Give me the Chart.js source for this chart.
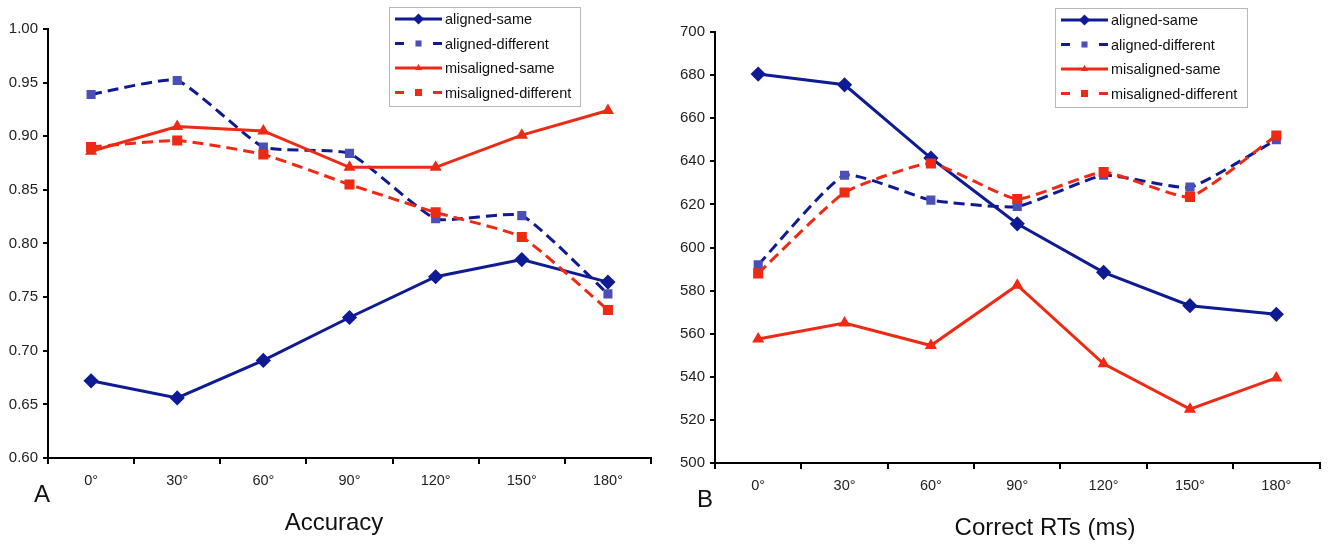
<!DOCTYPE html>
<html lang="en">
<head>
  <meta charset="UTF-8">
  <title>Accuracy and correct RTs</title>
  <script src="https://cdn.jsdelivr.net/npm/chart.js"></script>
  <style>
    body {
      margin: 0;
      background: #fff;
    }
    .panel {
      position: absolute;
      top: 0;
      width: 664px;
      height: 546px;
    }
    #panelA { left: 0; }
    #panelB { left: 664px; }
  </style>
</head>
<body>

  <div class="panel" id="panelA"><canvas id="accChart" width="664" height="546"></canvas></div>
  <div class="panel" id="panelB"><canvas id="rtChart" width="664" height="546"></canvas></div>

  <script>
    const angles = ["0°", "30°", "60°", "90°", "120°", "150°", "180°"];
    const seriesNames = ["aligned-same", "aligned-different", "misaligned-same", "misaligned-different"];

    // A: accuracy
    const accAlignedSame = [0.672, 0.656, 0.691, 0.731, 0.769, 0.785, 0.764];
    const accAlignedDiff = [0.939, 0.952, 0.890, 0.884, 0.823, 0.826, 0.753];
    const accMisalignedSame = [0.886, 0.909, 0.905, 0.871, 0.871, 0.901, 0.924];
    const accMisalignedDiff = [0.890, 0.896, 0.883, 0.855, 0.829, 0.806, 0.738];

    // B: correct RTs (ms)
    const rtAlignedSame = [680.5, 675.5, 641.5, 611, 588.5, 573, 569];
    const rtAlignedDiff = [592, 633.5, 622, 619, 633.5, 628, 650];
    const rtMisalignedSame = [557.5, 565, 554.5, 582.5, 546, 525, 539.5];
    const rtMisalignedDiff = [588, 625.5, 639, 622.5, 635, 623.5, 652];

    const NAVY = "#0f1b93";
    const BLUE_MARK = "#4b50b8";
    const RED = "#ee2a14";
    const FONT = '"Liberation Sans", Arial, sans-serif';

    function buildSets(values) {
      return [
        { label: seriesNames[0], data: values[0], borderColor: NAVY, backgroundColor: NAVY,
          pointStyle: "rectRot", pointRadius: 5.5, borderWidth: 3, tension: 0, order: 3 },
        { label: seriesNames[1], data: values[1], borderColor: NAVY, backgroundColor: BLUE_MARK,
          pointBorderColor: BLUE_MARK, borderDash: [11, 6], pointStyle: "rect", pointRadius: 4.3,
          borderWidth: 3, tension: 0.15, order: 2 },
        { label: seriesNames[2], data: values[2], borderColor: RED, backgroundColor: RED,
          pointStyle: "triangle", pointRadius: 4, borderWidth: 3, tension: 0, order: 1 },
        { label: seriesNames[3], data: values[3], borderColor: RED, backgroundColor: RED,
          borderDash: [11, 6], pointStyle: "rect", pointRadius: 5, borderWidth: 3,
          tension: 0.15, order: 0 }
      ];
    }

    function drawMarker(ctx, style, r, x, y, color) {
      ctx.beginPath();
      if (style === "rectRot") {
        ctx.moveTo(x, y - r); ctx.lineTo(x + r, y); ctx.lineTo(x, y + r); ctx.lineTo(x - r, y);
      } else if (style === "triangle") {
        ctx.moveTo(x, y - r); ctx.lineTo(x + r * 0.87, y + r * 0.5); ctx.lineTo(x - r * 0.87, y + r * 0.5);
      } else {
        const s = r * Math.SQRT1_2;
        ctx.rect(x - s, y - s, 2 * s, 2 * s);
      }
      ctx.closePath();
      ctx.fillStyle = color;
      ctx.fill();
    }

    // panel letter, caption and the boxed legend (line + marker samples)
    const panelDecor = {
      id: "panelDecor",
      afterDraw(chart, args, opts) {
        const ctx = chart.ctx;
        ctx.save();
        ctx.fillStyle = "#111";
        ctx.font = "24px " + FONT;
        ctx.textBaseline = "middle";
        ctx.textAlign = "left";
        ctx.fillText(opts.letter, opts.letterX, opts.letterY);
        ctx.textAlign = "center";
        ctx.fillText(opts.title, opts.titleX, opts.titleY);

        const lg = opts.legend;
        ctx.strokeStyle = "#b8b8b8";
        ctx.lineWidth = 1;
        ctx.strokeRect(lg.x + 0.5, lg.y + 0.5, lg.w, lg.h);

        ctx.font = "14.5px " + FONT;
        ctx.textAlign = "left";
        chart.data.datasets.forEach((ds, i) => {
          const y = lg.y + 12 + i * 24.5;
          const x0 = lg.x + 6, x1 = lg.x + 53, xm = (x0 + x1) / 2;
          ctx.strokeStyle = ds.borderColor;
          ctx.lineWidth = 3;
          ctx.beginPath();
          if (ds.borderDash) {
            ctx.moveTo(x0, y); ctx.lineTo(x0 + 9, y);
            ctx.moveTo(x1 - 9, y); ctx.lineTo(x1, y);
          } else {
            ctx.moveTo(x0, y); ctx.lineTo(x1, y);
          }
          ctx.stroke();
          drawMarker(ctx, ds.pointStyle, ds.pointRadius, xm, y, ds.backgroundColor);
          ctx.fillStyle = "#111";
          ctx.fillText(ds.label, x1 + 3, y + 1);
        });
        ctx.restore();
      }
    };

    function makeChart(id, values, y, layout, decor) {
      return new Chart(document.getElementById(id), {
        type: "line",
        data: { labels: angles, datasets: buildSets(values) },
        options: {
          responsive: false,
          animation: false,
          layout: { padding: { top: layout.top, right: layout.right, left: 0, bottom: 0 } },
          plugins: { legend: { display: false }, tooltip: { enabled: false }, panelDecor: decor },
          elements: { point: { borderWidth: 1 } },
          scales: {
            x: {
              offset: true,
              ticks: { color: "#222", font: { size: 14.5, family: FONT }, padding: 8 },
              grid: { offset: true, drawOnChartArea: false, tickLength: 6, color: "#000", lineWidth: 2 },
              border: { color: "#000", width: 2 },
              afterFit: s => { s.height = layout.xHeight; }
            },
            y: {
              min: y.min,
              max: y.max,
              ticks: { stepSize: y.step, color: "#222", font: { size: 15, family: FONT }, padding: 5,
                       callback: v => Number(v).toFixed(y.decimals) },
              grid: { drawOnChartArea: false, tickLength: 5, color: "#000", lineWidth: 2 },
              border: { color: "#000", width: 2 },
              afterFit: s => { s.width = layout.yWidth; }
            }
          }
        },
        plugins: [panelDecor]
      });
    }

    makeChart("accChart",
      [accAlignedSame, accAlignedDiff, accMisalignedSame, accMisalignedDiff],
      { min: 0.6, max: 1.0, step: 0.05, decimals: 2 },
      { top: 29, right: 13, xHeight: 88, yWidth: 48 },
      { letter: "A", letterX: 34, letterY: 495, title: "Accuracy", titleX: 334, titleY: 523,
        legend: { x: 389, y: 7, w: 191, h: 99 } });

    makeChart("rtChart",
      [rtAlignedSame, rtAlignedDiff, rtMisalignedSame, rtMisalignedDiff],
      { min: 500, max: 700, step: 20, decimals: 0 },
      { top: 32, right: 5, xHeight: 83, yWidth: 51 },
      { letter: "B", letterX: 33, letterY: 500, title: "Correct RTs (ms)", titleX: 381, titleY: 528,
        legend: { x: 391, y: 8, w: 192, h: 99 } });
  </script>

</body>
</html>
